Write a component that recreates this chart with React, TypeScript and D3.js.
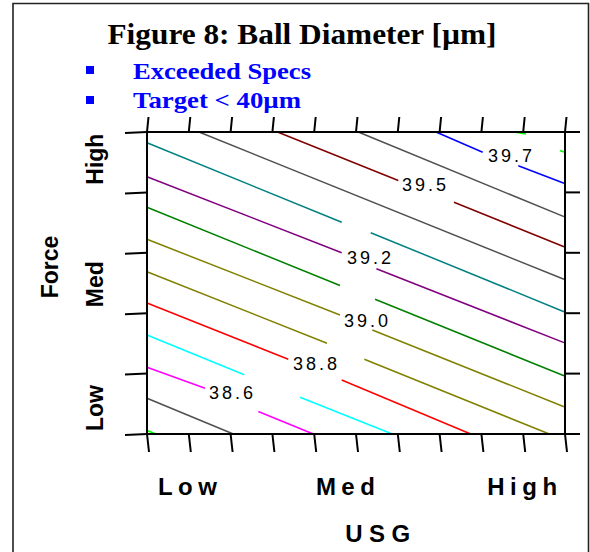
import React from 'react';
import * as d3 from 'd3';

// USG runs 0..10 tick steps, Force runs 0..5 tick steps
const usgTicks = [0, 1, 2, 3, 4, 5, 6, 7, 8, 9, 10];
const forceTicks = [0, 1, 2, 3, 4, 5];

const usgLabels = ['Low', 'Med', 'High'];
const usgLabelAt = [0.96, 4.74, 8.97];
const forceLabels = ['Low', 'Med', 'High'];
const forceLabelAt = [0.43, 2.48, 4.55];

const bullets = ['Exceeded Specs', 'Target < 40µm'];

// contour levels and their line colours
const levels = [38.4, 38.5, 38.6, 38.7, 38.8, 38.9, 39.0, 39.1, 39.2, 39.3, 39.4, 39.5, 39.6, 39.7, 39.8];
const levelColors = ['#00ff00', '#505050', '#ff00ff', '#00ffff', '#ff0000', '#808000', '#808000', '#008000',
  '#800080', '#008080', '#505050', '#800000', '#505050', '#0000ff', '#00ff00'];

// visible pieces of each contour, [usg, force]
const c384 = [[[0, 0.058], [0.215, 0]]];
const c385 = [[[0, 0.591], [2.065, 0]]];
const c386 = [[[0, 1.104], [1.388, 0.757]], [[2.663, 0.373], [3.978, 0]]];
const c387 = [[[0, 1.639], [2.328, 0.982]], [[3.66, 0.608], [5.868, 0]]];
const c388 = [[[0, 2.169], [3.38, 1.237]], [[4.658, 0.894], [7.744, 0]]];
const c389 = [[[0, 2.687], [4.306, 1.502]], [[5.199, 1.237], [9.624, 0]]];
const c390 = [[[0, 3.224], [4.617, 1.97]], [[5.39, 1.722], [9.976, 0.452]]];
const c391 = [[[0, 3.753], [4.617, 2.459]], [[5.455, 2.23], [9.976, 0.965]]];
const c392 = [[[0, 4.26], [4.658, 3.002]], [[5.488, 2.737], [9.976, 1.512]]];
const c393 = [[[0, 4.823], [4.658, 3.505]], [[5.352, 3.333], [9.976, 2.025]]];
const c394 = [[[1.244, 5], [9.976, 2.561]]];
const c395 = [[[3.122, 5], [6.012, 4.197]], [[7.344, 3.836], [9.976, 3.101]]];
const c396 = [[[5.055, 5], [9.976, 3.598]]];
const c397 = [[[6.914, 5], [8.031, 4.664]], [[8.883, 4.442], [9.976, 4.151]]];
const c398 = [[[8.78, 5], [9.067, 4.967]], [[9.88, 4.694], [9.976, 4.669]]];
const contours = [c384, c385, c386, c387, c388, c389, c390, c391, c392, c393, c394, c395, c396, c397, c398];

// in-line level labels
const labelText = ['39.7', '39.5', '39.2', '39.0', '38.8', '38.6'];
const labelAt = [[8.684, 4.503], [6.627, 4.023], [5.311, 2.815], [5.239, 1.772], [4.019, 1.06], [2.01, 0.579]];

const W = 590;
const H = 552;
const plot = { left: 147, right: 565, top: 132, bottom: 434 };
const sans = '"Liberation Sans", Arial, sans-serif';
const serif = '"Liberation Serif", "Times New Roman", serif';

export default function App() {
  const x = d3.scaleLinear().domain([0, 10]).range([plot.left, plot.right]);
  const y = d3.scaleLinear().domain([0, 5]).range([plot.bottom, plot.top]);
  const line = d3.line<number[]>().x(d => x(d[0])).y(d => y(d[1]));

  return (
    <svg width={W} height={H} style={{ position: 'absolute', left: 0, top: 0, background: '#fff' }}>
      {/* outer frame */}
      <path d={`M13,552 L13,3.5 L588.5,3.5 L588.5,552`} fill="none" stroke="#222" strokeWidth={1.6} />

      <text x={302} y={44} textAnchor="middle" fontFamily={serif} fontWeight="bold" fontSize={30}
        textLength={389} lengthAdjust="spacingAndGlyphs">Figure 8: Ball Diameter [µm]</text>

      {bullets.map((b, i) => (
        <g key={b}>
          <rect x={86} y={66 + i * 30} width={8} height={8} fill="#0000ff" />
          <text x={133} y={79 + i * 29} fontFamily={serif} fontWeight="bold" fontSize={24} fill="#0000ff"
            textLength={i === 0 ? 178 : 168} lengthAdjust="spacingAndGlyphs">{b}</text>
        </g>
      ))}

      {/* contours */}
      <g fill="none" strokeWidth={1.5} strokeLinejoin="round">
        {contours.map((segs, i) =>
          segs.map((s, j) => (
            <path key={`${levels[i]}-${j}`} d={line(s) || ''} stroke={levelColors[i]} />
          ))
        )}
      </g>

      {labelText.map((t, i) => (
        <text key={t} x={x(labelAt[i][0]) + 1.5} y={y(labelAt[i][1])} textAnchor="middle"
          fontFamily={sans} fontSize={18} letterSpacing={3} fill="#000">{t}</text>
      ))}

      {/* axes box and ticks */}
      <g stroke="#000" strokeWidth={2} fill="none">
        <rect x={plot.left} y={plot.top} width={plot.right - plot.left} height={plot.bottom - plot.top} />
        {usgTicks.map(t => (
          <g key={'x' + t}>
            <line x1={x(t) + 1.5} y1={plot.top - 15} x2={x(t)} y2={plot.top} />
            <line x1={x(t)} y1={plot.bottom} x2={x(t) + 2} y2={plot.bottom + 18} />
          </g>
        ))}
        {forceTicks.map(t => (
          <g key={'y' + t}>
            <line x1={plot.left - 22} y1={y(t) + 1} x2={plot.left} y2={y(t)} />
            <line x1={plot.right} y1={y(t)} x2={plot.right + 15} y2={y(t)} />
          </g>
        ))}
      </g>

      {usgLabels.map((l, i) => (
        <text key={'xl' + l} x={x(usgLabelAt[i]) + 3} y={495} textAnchor="middle" fontFamily={sans}
          fontWeight="bold" fontSize={24} letterSpacing={5.5}>{l}</text>
      ))}
      <text x={381} y={542} textAnchor="middle" fontFamily={sans} fontWeight="bold" fontSize={24}
        letterSpacing={6.5}>USG</text>

      {forceLabels.map((l, i) => (
        <text key={'yl' + l} transform={`translate(103,${y(forceLabelAt[i])}) rotate(-90)`} textAnchor="middle"
          fontFamily={sans} fontWeight="bold" fontSize={23}>{l}</text>
      ))}
      <text transform={`translate(58,267) rotate(-90)`} textAnchor="middle" fontFamily={sans}
        fontWeight="bold" fontSize={23}>Force</text>
    </svg>
  );
}
